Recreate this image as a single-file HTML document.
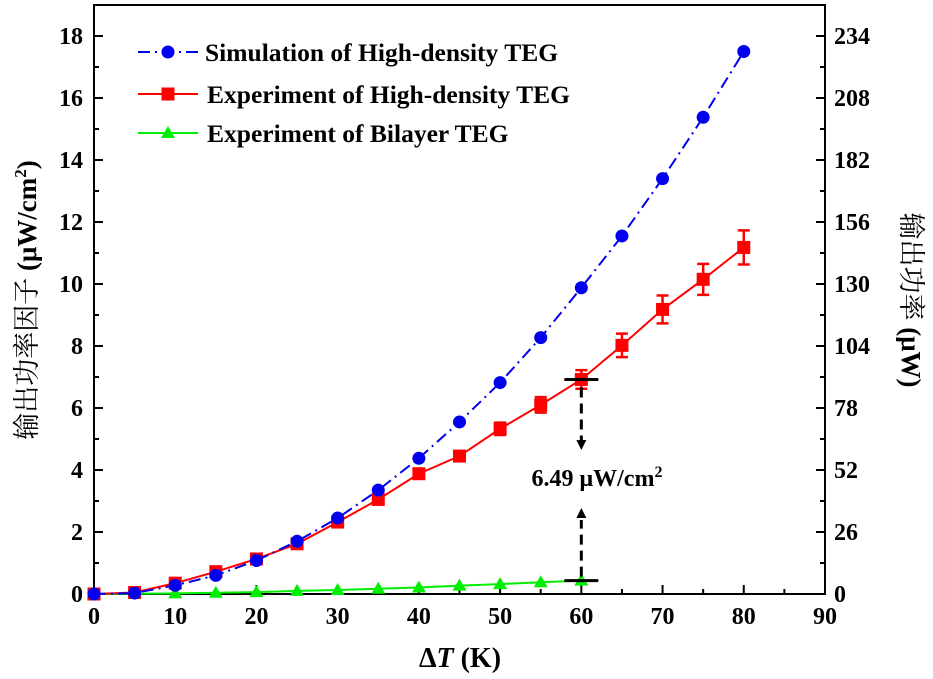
<!DOCTYPE html>
<html><head><meta charset="utf-8"><style>
body{margin:0;background:#fff}
svg{font-family:"Liberation Serif","Noto Serif CJK SC",serif;font-weight:bold}
</style></head><body>
<svg id="c" width="933" height="674" xmlns="http://www.w3.org/2000/svg"></svg>
<script>
const xs=[0,5,10,15,20,25,30,35,40,45,50,55,60,65,70,75,80];
const simVals=[0,0.03,0.28,0.6,1.08,1.7,2.45,3.35,4.38,5.55,6.82,8.27,9.88,11.55,13.4,15.38,17.5];
const expVals=[0,0.05,0.35,0.72,1.13,1.62,2.32,3.05,3.88,4.45,5.33,6.1,6.92,8.02,9.18,10.15,11.18];
const expErr=[0.05,0.05,0.08,0.1,0.1,0.12,0.12,0.15,0.15,0.15,0.2,0.25,0.3,0.38,0.45,0.5,0.55];
const biX=[0,5,10,15,20,25,30,35,40,45,50,55,60];
const biVals=[0,0.01,0.02,0.04,0.06,0.1,0.13,0.17,0.21,0.27,0.32,0.38,0.43];
const xTicks=[0,10,20,30,40,50,60,70,80,90];
const yTicks=[0,2,4,6,8,10,12,14,16,18];
const y2Ticks=[0,26,52,78,104,130,156,182,208,234];
const L=94,R=825,T=5,B=594;
const X=v=>L+(v-0)/90*(R-L);
const Y=v=>B-v/19*(B-T);
const Y2=v=>Y(v/13);
const svg=document.getElementById('c');
const NS='http://www.w3.org/2000/svg';
function el(tag,at,par){const e=document.createElementNS(NS,tag);for(const k in at)e.setAttribute(k,at[k]);(par||svg).appendChild(e);return e;}
function txt(s,x,y,at){const e=el('text',Object.assign({x:x,y:y},at||{}));e.textContent=s;return e;}
let f=el('rect',{x:L,y:T,width:R-L,height:B-T,fill:'none',stroke:'#000','stroke-width':2});

for(let v=0;v<=90;v+=5){const t=el('line',{x1:X(v),x2:X(v),y1:B,y2:B-(v%10?5:9),stroke:'#000','stroke-width':2});}
xTicks.forEach(v=>{const t=txt(v,X(v),624,{'font-size':24,'text-anchor':'middle'});});
for(let v=0;v<=19;v+=1){const t=el('line',{x1:L,x2:L+(v%2?5:9),y1:Y(v),y2:Y(v),stroke:'#000','stroke-width':2});}
yTicks.forEach(v=>{const t=txt(v,83,Y(v)+8,{'font-size':24,'text-anchor':'end'});});
for(let v=0;v<=247;v+=13){const t=el('line',{x1:R,x2:R-((v/13)%2?5:9),y1:Y2(v),y2:Y2(v),stroke:'#000','stroke-width':2});}
y2Ticks.forEach(v=>{const t=txt(v,834,Y2(v)+8,{'font-size':24});});
let xt=el('text',{x:460,y:667,'font-size':28,'text-anchor':'middle'});xt.innerHTML='Δ<tspan font-style="italic">T</tspan> (K)';
let yt=el('text',{transform:'translate(36,300) rotate(-90)','font-size':27,'text-anchor':'middle','font-weight':'normal'});yt.innerHTML='输出功率因子 <tspan font-weight="bold">(μW/cm<tspan font-size="17" dy="-10">2</tspan><tspan dy="10">)</tspan></tspan>';
let y2t=el('text',{transform:'translate(902,300) rotate(90)','font-size':27,'text-anchor':'middle','font-weight':'normal'});y2t.innerHTML='输出功率 <tspan font-weight="bold">(μW)</tspan>';
const pts=(xa,ya)=>xa.map((x,i)=>X(x)+','+Y(ya[i])).join(' ');
let g=el('polyline',{points:pts(biX,biVals),fill:'none',stroke:'#00ee00','stroke-width':2});
biX.forEach((x,i)=>{const cx=X(x),cy=Y(biVals[i]);const p=el('polygon',{points:`${cx},${cy-7} ${cx-7},${cy+5} ${cx+7},${cy+5}`,fill:'#00ee00'});});
let r=el('polyline',{points:pts(xs,expVals),fill:'none',stroke:'#ff0000','stroke-width':2});
xs.forEach((x,i)=>{const cx=X(x),cy=Y(expVals[i]),e=expErr[i];const eb=el('path',{d:`M${cx},${Y(expVals[i]+e)}V${Y(expVals[i]-e)}M${cx-6},${Y(expVals[i]+e)}h12M${cx-6},${Y(expVals[i]-e)}h12`,stroke:'#ff0000','stroke-width':2.5,fill:'none'});const s=el('rect',{x:cx-6.5,y:cy-6.5,width:13,height:13,fill:'#ff0000'});});
let b=el('polyline',{points:pts(xs,simVals),fill:'none',stroke:'#0000ee','stroke-width':2,'stroke-dasharray':'12,5,2,5'});
xs.forEach((x,i)=>{const c=el('circle',{cx:X(x),cy:Y(simVals[i]),r:6.5,fill:'#0000ee'});});
const ax=X(60);
let an=el('g',{stroke:'#000','stroke-width':3,fill:'none'});
el('line',{x1:ax-17,x2:ax+17,y1:Y(expVals[12]),y2:Y(expVals[12])},an);
el('line',{x1:ax-17,x2:ax+17,y1:Y(biVals[12]),y2:Y(biVals[12])},an);
el('line',{x1:ax,x2:ax,y1:Y(expVals[12])+8,y2:440,'stroke-dasharray':'10,6'},an);
el('line',{x1:ax,x2:ax,y1:Y(biVals[12])-4,y2:520,'stroke-dasharray':'10,6'},an);
el('polygon',{points:`${ax-5},440 ${ax+5},440 ${ax},450`,fill:'#000',stroke:'none'},an);
el('polygon',{points:`${ax-5},518 ${ax+5},518 ${ax},508`,fill:'#000',stroke:'none'},an);
let at=el('text',{x:597,y:486,'font-size':24,'text-anchor':'middle'});at.innerHTML='6.49 μW/cm<tspan font-size="16" dy="-9">2</tspan>';
const leg=[['Simulation of High-density TEG','#0000ee','c',52],['Experiment of High-density TEG','#ff0000','s',94],['Experiment of Bilayer TEG','#00ee00','t',133]];
leg.forEach(l=>{const gg=el('g',{});
el('line',{x1:138,x2:198,y1:l[3],y2:l[3],stroke:l[1],'stroke-width':2,'stroke-dasharray':l[2]=='c'?'12,5,2,5':''},gg);
if(l[2]=='c')el('circle',{cx:168,cy:l[3],r:6.5,fill:l[1]},gg);
if(l[2]=='s')el('rect',{x:161.5,y:l[3]-6.5,width:13,height:13,fill:l[1]},gg);
if(l[2]=='t')el('polygon',{points:`168,${l[3]-7} 161,${l[3]+5} 175,${l[3]+5}`,fill:l[1]},gg);
const t=el('text',{x:l[2]=='c'?205:207,y:l[3]+9,'font-size':25.5},gg);t.textContent=l[0];});
</script>
</body></html>
